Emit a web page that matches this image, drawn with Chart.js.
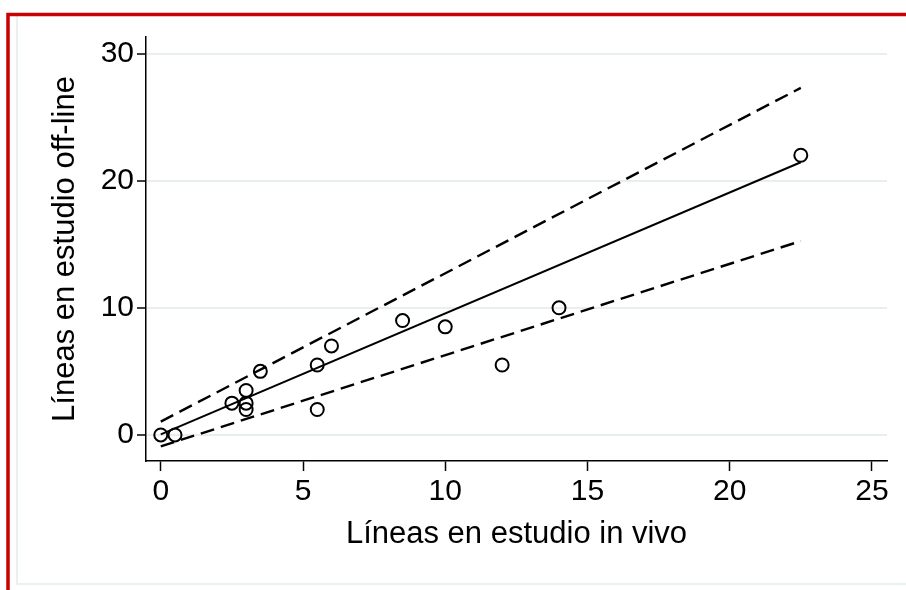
<!DOCTYPE html>
<html>
<head>
<meta charset="utf-8">
<script src="https://cdn.jsdelivr.net/npm/chart.js@4.4.0/dist/chart.umd.min.js"></script>
<style>
  html, body { margin: 0; padding: 0; background: #fff; }
  #wrap { width: 906px; height: 590px; }
</style>
</head>
<body>
<div id="wrap"><canvas id="chart" width="906" height="590"></canvas></div>
<script>
// Datos
const xVivo = [0, 0.5, 2.5, 3, 3, 3, 3.5, 5.5, 5.5, 6, 8.5, 10, 12, 14, 22.5];
const yOffline = [0, 0, 2.5, 2, 2.5, 3.5, 5, 5.5, 2, 7, 9, 8.5, 5.5, 10, 22];

// Recta ajustada y bandas (extremos leídos)
const lineX = [0, 22.5];
const fitY = [0.05, 21.45];
const upperY = [1.05, 27.3];
const lowerY = [-0.9, 15.25];

const xTicks = [0, 5, 10, 15, 20, 25];
const yTicks = [0, 10, 20, 30];

const toPts = (xs, ys) => xs.map((x, i) => ({ x: x, y: ys[i] }));

const FONT = "'Liberation Sans', Arial, sans-serif";
Chart.defaults.font.family = FONT;
Chart.defaults.color = '#000';

// Marco rojo y recuadro gris de fondo
const frame = {
  id: 'frame',
  beforeDraw(chart) {
    const c = chart.ctx;
    c.save();
    c.fillStyle = '#fff';
    c.fillRect(0, 0, chart.width, chart.height);
    c.strokeStyle = '#eaf0f2';
    c.lineWidth = 2;
    c.beginPath();
    c.moveTo(17, 16);
    c.lineTo(17, 584);
    c.lineTo(906, 584);
    c.stroke();
    c.strokeStyle = '#c80000';
    c.lineWidth = 3.5;
    c.beginPath();
    c.moveTo(8, 590);
    c.lineTo(8, 14.5);
    c.lineTo(906, 14.5);
    c.stroke();
    c.restore();
  }
};

const lineDs = (ys, dash) => ({
  data: toPts(lineX, ys),
  showLine: true,
  borderColor: '#000',
  borderWidth: dash ? 2.4 : 2,
  borderDash: dash ? [14, 7] : [],
  pointRadius: 0,
  fill: false
});

new Chart(document.getElementById('chart'), {
  type: 'scatter',
  data: {
    datasets: [
      {
        data: toPts(xVivo, yOffline),
        showLine: false,
        pointRadius: 6.5,
        pointBorderWidth: 2,
        pointBackgroundColor: 'rgba(0,0,0,0)',
        pointBorderColor: '#000'
      },
      lineDs(fitY, false),
      lineDs(upperY, true),
      lineDs(lowerY, true)
    ]
  },
  options: {
    responsive: false,
    animation: false,
    layout: { padding: { top: 37, right: 19, left: 0, bottom: 0 } },
    plugins: { legend: { display: false }, tooltip: { enabled: false } },
    scales: {
      x: {
        type: 'linear',
        min: -0.52,
        max: 25.53,
        afterBuildTicks: s => { s.ticks = xTicks.map(v => ({ value: v })); },
        afterFit: s => { s.height = 129; },
        ticks: { font: { size: 30 }, color: '#000', padding: 3, maxRotation: 0 },
        grid: { drawOnChartArea: false, drawTicks: true, tickLength: 10, tickColor: '#000', tickWidth: 1.5 },
        border: { display: true, color: '#000', width: 1.5 },
        title: { display: true, text: 'Líneas en estudio in vivo', font: { size: 31 }, color: '#000', padding: { top: 0, bottom: 37 } }
      },
      y: {
        type: 'linear',
        min: -2.05,
        max: 31.3,
        afterBuildTicks: s => { s.ticks = yTicks.map(v => ({ value: v })); },
        afterFit: s => { s.width = 146; },
        ticks: { font: { size: 30 }, color: '#000', padding: 3 },
        grid: { color: '#e9eff1', lineWidth: 2, drawTicks: true, tickLength: 9, tickColor: '#000', tickWidth: 1.5 },
        border: { display: true, color: '#000', width: 1.5 },
        title: { display: true, text: 'Líneas en estudio off-line', font: { size: 31 }, color: '#000', padding: { top: 47, bottom: 0 } }
      }
    }
  },
  plugins: [frame]
});
</script>
</body>
</html>
